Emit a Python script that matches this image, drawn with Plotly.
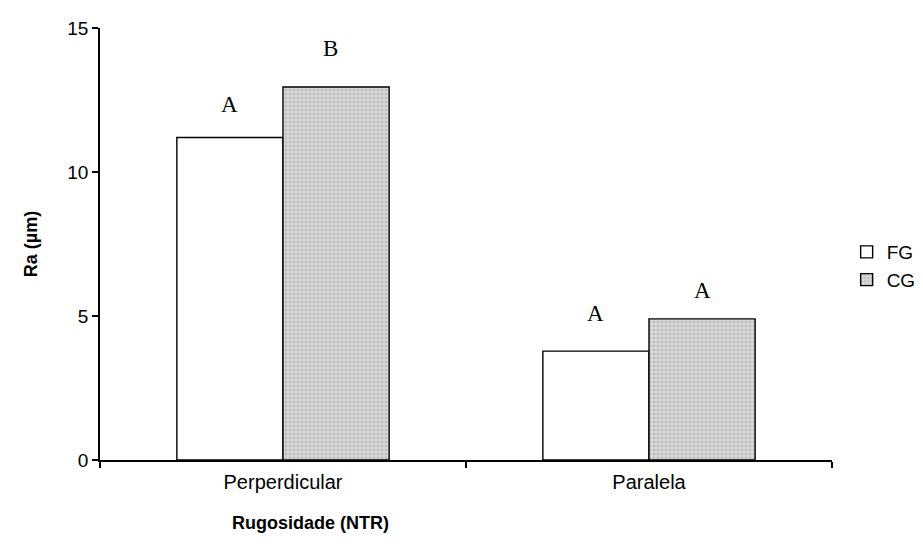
import plotly.graph_objects as go

categories = ["Perperdicular", "Paralela"]
fg_values = [11.2, 3.78]
cg_values = [12.95, 4.9]
fg_letters = ["A", "A"]
cg_letters = ["B", "A"]
fg_letter_y = [12.35, 5.1]
cg_letter_y = [14.3, 5.87]
y_ticks = [0, 5, 10, 15]
x_title = "Rugosidade (NTR)"

fig = go.Figure()
fig.add_trace(go.Bar(
    name="FG", x=categories, y=fg_values,
    marker=dict(color="white", line=dict(color="black", width=1.4)),
))
fig.add_trace(go.Bar(
    name="CG", x=categories, y=cg_values,
    marker=dict(color="#d4d4d4", line=dict(color="black", width=1.4),
                pattern=dict(shape=".", fgcolor="#9a9a9a", bgcolor="#d8d8d8",
                             size=4, solidity=0.35)),
))

off = 0.145
for i, c in enumerate(categories):
    fig.add_annotation(x=i - off, y=fg_letter_y[i], text=fg_letters[i], showarrow=False,
                       font=dict(family="Liberation Serif", size=23, color="black"))
    fig.add_annotation(x=i + off - 0.015 * (1 - i), y=cg_letter_y[i], text=cg_letters[i],
                       showarrow=False,
                       font=dict(family="Liberation Serif", size=23, color="black"))

# x-axis title, placed left of centre as in the reference
fig.add_annotation(text="<b>%s</b>" % x_title, xref="paper", yref="paper",
                   x=0.287, y=-0.146, xanchor="center", yanchor="middle",
                   showarrow=False, font=dict(family="Arial", size=18, color="black"))

fig.update_layout(
    width=923, height=557,
    margin=dict(l=100, r=91, t=28, b=97, autoexpand=False),
    paper_bgcolor="white", plot_bgcolor="white",
    barmode="group", bargap=0.42, bargroupgap=0,
    font=dict(family="Arial", size=19, color="black"),
    legend=dict(x=1.02, y=0.449, yanchor="middle", xanchor="left",
                font=dict(size=19), itemwidth=30, borderwidth=0),
    xaxis=dict(
        range=[-0.5, 1.5], tickson="boundaries", ticks="outside", ticklen=6,
        tickcolor="black", tickwidth=1.5, showline=True, linecolor="black", linewidth=1.5,
        tickfont=dict(size=20), ticklabelstandoff=3,
        showgrid=False,
    ),
    yaxis=dict(
        range=[0, 15], tickvals=y_ticks, ticks="outside", ticklen=6,
        tickcolor="black", tickwidth=1.5, showline=True, linecolor="black", linewidth=1.5,
        tickfont=dict(size=19),
        title=dict(text="<b>Ra (µm)</b>", font=dict(size=18), standoff=25),
        showgrid=False, zeroline=False,
    ),
)

fig.write_html("out.html", config={"displayModeBar": False},
               post_script="document.body.style.margin='0';")
